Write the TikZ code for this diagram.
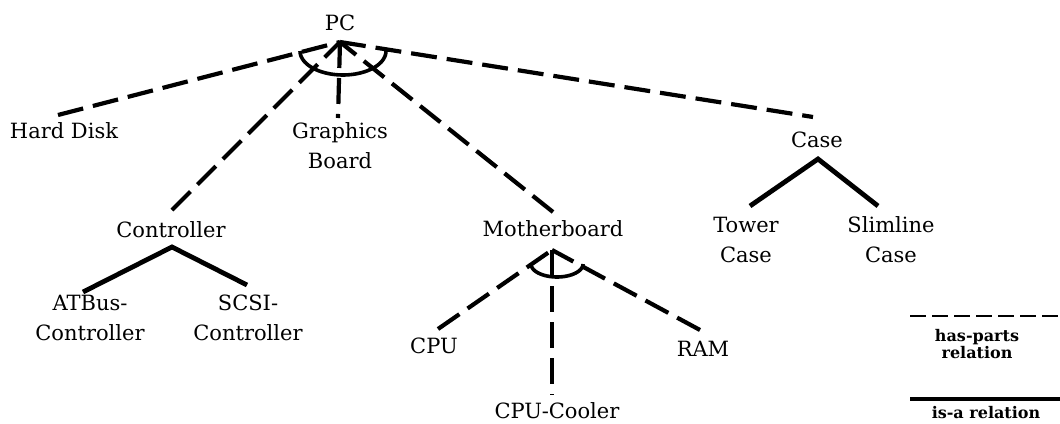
\documentclass[tikz,border=0pt]{standalone}
\usepackage{fontspec}
\setmainfont{DejaVu Serif}
\begin{document}
\begin{tikzpicture}[x=1pt,y=-1pt,
  lbl/.style={inner sep=0pt, align=center, anchor=base,
    font=\fontsize{21}{29.5}\selectfont},
  leg/.style={inner sep=0pt, align=center, anchor=base,
    font=\fontsize{16}{17}\selectfont\bfseries},
  partof/.style={line width=4.2pt, dash pattern=on 26pt off 10pt},
  isa/.style={line width=4.8pt, line join=miter},
  andarc/.style={line width=3.6pt},
  legpart/.style={line width=2.8pt, dash pattern=on 16pt off 6pt},
  legisa/.style={line width=3.2pt}]
\useasboundingbox (0,0) rectangle (1060,423);

% concept labels (two-line labels are placed by the baseline of their last line)
\node[lbl] (pc)     at (340,30)  {PC};
\node[lbl] (hd)     at (64,138)  {Hard Disk};
\node[lbl] (gb)     at (340,168) {Graphics\\Board};
\node[lbl] (ctrl)   at (171,237) {Controller};
\node[lbl] (mb)     at (553,236) {Motherboard};
\node[lbl] (case)   at (817,147) {Case};
\node[lbl] (tower)  at (746,262) {Tower\\Case};
\node[lbl] (slim)   at (891,262) {Slimline\\Case};
\node[lbl] (atbus)  at (90,340)  {ATBus-\\Controller};
\node[lbl] (scsi)   at (248,340) {SCSI-\\Controller};
\node[lbl] (cpu)    at (434,353) {CPU};
\node[lbl] (ram)    at (703,356) {RAM};
\node[lbl] (cooler) at (557,418) {CPU-Cooler};

% junction points above and below the labels
\coordinate (pcApex)    at (340,42);
\coordinate (hdEnd)     at (58,115);
\coordinate (gbEnd)     at (338,118);
\coordinate (ctrlEnd)   at (172,210);
\coordinate (mbEnd)     at (553,212);
\coordinate (caseEnd)   at (813,117);
\coordinate (ctrlApex)  at (172,247);
\coordinate (atbusEnd)  at (83,292);
\coordinate (scsiEnd)   at (247,285);
\coordinate (caseApex)  at (818,159);
\coordinate (towerEnd)  at (750,206);
\coordinate (slimEnd)   at (878,206);
\coordinate (mbApex)    at (552,250);
\coordinate (cpuEnd)    at (438,329);
\coordinate (coolerEnd) at (552,395);
\coordinate (ramEnd)    at (700,330);

% has-parts relations of PC
\draw[partof] (hdEnd) -- (pcApex);
\draw[partof] (ctrlEnd) -- (pcApex);
\draw[partof] (pcApex) -- (gbEnd);
\draw[partof] (mbEnd) -- (pcApex);
\draw[partof] (pcApex) -- (caseEnd);
\draw[andarc] plot[domain=180:360, samples=40, smooth]
  ({343+43*cos(\x)},{51-24*sin(\x)});

% has-parts relations of Motherboard
\draw[partof] (cpuEnd) -- (mbApex);
\draw[partof] (mbApex) -- (coolerEnd);
\draw[partof] (ramEnd) -- (mbApex);
\draw[andarc] plot[domain=180:360, samples=30, smooth]
  ({557+26*cos(\x)},{264-13*sin(\x)});

% is-a relations
\draw[isa] (atbusEnd) -- (ctrlApex) -- (scsiEnd);
\draw[isa] (towerEnd) -- (caseApex) -- (slimEnd);

% legend
\coordinate (lpA) at (910,316);
\coordinate (lpB) at (1060,316);
\coordinate (liA) at (910,399);
\coordinate (liB) at (1060,399);
\draw[legpart] (lpA) -- (lpB);
\draw[legisa] (liA) -- (liB);
\node[leg] (hp)  at (977,358) {has-parts\\relation};
\node[leg] (isr) at (986,418) {is-a relation};
\end{tikzpicture}
\end{document}
